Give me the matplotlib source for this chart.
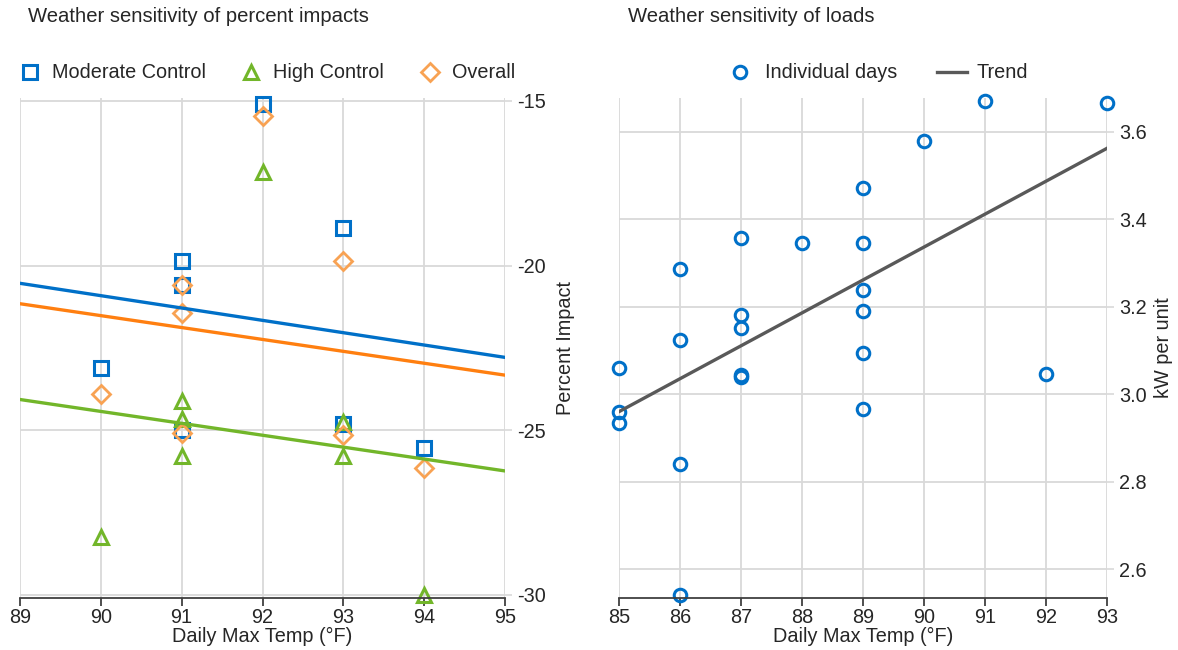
import numpy as np
import matplotlib
matplotlib.use("Agg")
import matplotlib.pyplot as plt

plt.rcParams["font.family"] = ["Liberation Sans", "DejaVu Sans"]
plt.rcParams["axes.unicode_minus"] = False

# left panel - percent impact by daily max temp
mod_temp = [90, 91, 91, 91, 92, 93, 93, 94]
mod_impact = [-23.1, -19.85, -20.6, -25.0, -15.1, -18.85, -24.8, -25.55]
high_temp = [90, 91, 91, 91, 92, 93, 93, 94]
high_impact = [-28.25, -24.1, -24.65, -25.8, -17.15, -24.75, -25.8, -30.0]
all_temp = [90, 91, 91, 91, 92, 93, 93, 94]
all_impact = [-23.9, -20.6, -21.45, -25.1, -15.45, -19.85, -25.15, -26.15]

trend_temp = [89, 95]
mod_trend = [-20.54, -22.79]
all_trend = [-21.16, -23.33]
high_trend = [-24.07, -26.24]

# right panel - loads by daily max temp
day_temp = [85, 85, 85, 86, 86, 86, 86, 87, 87, 87, 87, 87, 88,
            89, 89, 89, 89, 89, 89, 90, 91, 92, 93]
day_kw = [3.06, 2.96, 2.934, 3.286, 3.123, 2.841, 2.540, 3.358, 3.181, 3.151, 3.040, 3.043, 3.346,
          3.471, 3.345, 3.238, 3.189, 3.093, 2.967, 3.579, 3.670, 3.046, 3.666]
load_trend_temp = [85, 93]
load_trend = [2.96, 3.562]

blue = "#0070C8"
green = "#72B62A"
orange_pt = "#F8A253"
orange_ln = "#FF7F10"
grid_c = "#D9D9D9"
txt = "#262626"
fs = 14.3

fig = plt.figure(figsize=(11.78, 6.5), dpi=100)
ax1 = fig.add_axes([20/1178, 52/650, 485/1178, 500/650])
ax2 = fig.add_axes([619/1178, 52/650, 488/1178, 500/650])


def style(ax):
    ax.grid(True, color=grid_c, lw=1.3)
    ax.set_axisbelow(True)
    for s in ["top", "left", "right"]:
        ax.spines[s].set_visible(False)
    ax.spines["bottom"].set_color("#404040")
    ax.spines["bottom"].set_linewidth(1.3)
    ax.yaxis.tick_right()
    ax.yaxis.set_label_position("right")
    ax.tick_params(axis="y", colors=grid_c, labelcolor=txt, length=5, width=1.2, labelsize=fs, pad=4)
    ax.tick_params(axis="x", colors="#404040", labelcolor=txt, length=6, width=1.3, labelsize=fs, pad=1.5)


# left chart
ax1.plot(mod_temp, mod_impact, "s", ms=9.5, mfc="none", mec=blue, mew=2.2, clip_on=False, label="Moderate Control")
ax1.plot(high_temp, high_impact, "^", ms=10, mfc="none", mec=green, mew=2.2, clip_on=False, label="High Control")
ax1.plot(all_temp, all_impact, "D", ms=9.5, mfc="none", mec=orange_pt, mew=2.0, clip_on=False, label="Overall")
ax1.plot(trend_temp, mod_trend, color=blue, lw=2.4)
ax1.plot(trend_temp, all_trend, color=orange_ln, lw=2.4)
ax1.plot(trend_temp, high_trend, color=green, lw=2.4)
ax1.set_xlim(89, 95)
ax1.set_ylim(-30.1, -14.91)
ax1.set_xticks(range(89, 96))
ax1.set_yticks([-30, -25, -20, -15])
style(ax1)
ax1.set_xlabel("Daily Max Temp (°F)", fontsize=fs, color=txt, labelpad=0)
ax1.set_ylabel("Percent Impact", fontsize=fs, color=txt, labelpad=7)
ax1.legend(loc="center", bbox_to_anchor=(0.51, 1.05), ncol=3, frameon=False, fontsize=fs,
           handletextpad=0.6, columnspacing=1.8, handlelength=1.0, labelcolor=txt)

# right chart
ax2.plot(day_temp, day_kw, "o", ms=9, mfc="none", mec=blue, mew=2.2, clip_on=False, label="Individual days")
ax2.plot(load_trend_temp, load_trend, color="#595959", lw=2.4, label="Trend")
ax2.set_xlim(85, 93)
ax2.set_ylim(2.534, 3.677)
ax2.set_xticks(range(85, 94))
ax2.set_yticks([2.6, 2.8, 3.0, 3.2, 3.4, 3.6])
ax2.set_yticklabels(["2.6", "2.8", "3.0", "3.2", "3.4", "3.6"])
style(ax2)
ax2.set_xlabel("Daily Max Temp (°F)", fontsize=fs, color=txt, labelpad=0)
ax2.set_ylabel("kW per unit", fontsize=fs, color=txt, labelpad=5)
ax2.legend(loc="center", bbox_to_anchor=(0.528, 1.05), ncol=2, frameon=False, fontsize=fs,
           handletextpad=0.5, columnspacing=2.0, handlelength=1.5, labelcolor=txt)

fig.text(28/1178, 1 - 16/650, "Weather sensitivity of percent impacts", fontsize=14.6, color=txt, va="center")
fig.text(628/1178, 1 - 16/650, "Weather sensitivity of loads", fontsize=14.6, color=txt, va="center")

fig.savefig("out.png", dpi=100)
